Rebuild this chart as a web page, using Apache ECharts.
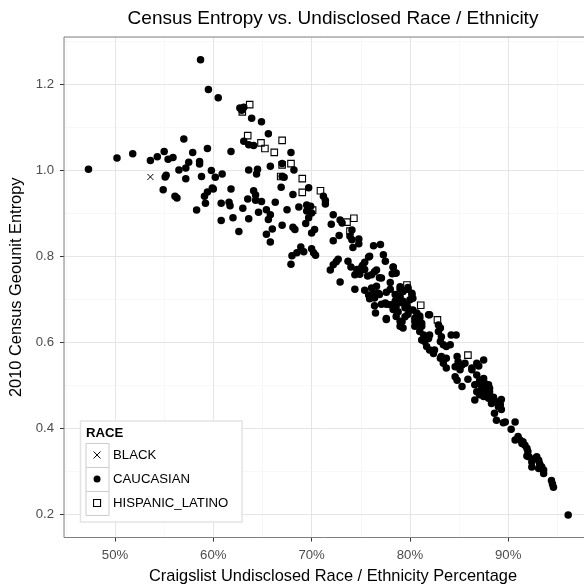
<!DOCTYPE html>
<html><head><meta charset="utf-8">
<script src="https://cdn.jsdelivr.net/npm/echarts@6/dist/echarts.min.js"></script>
<style>html,body{margin:0;padding:0;background:#fff}#c{width:584px;height:584px}</style>
</head><body><div id="c"></div>
<script>
const chartTitle = 'Census Entropy vs. Undisclosed Race / Ethnicity';
const xTitle = 'Craigslist Undisclosed Race / Ethnicity Percentage';
const yTitle = '2010 Census Geounit Entropy';
const legendTitle = 'RACE';
const raceNames = ['BLACK', 'CAUCASIAN', 'HISPANIC_LATINO'];
const xTicks = [50, 60, 70, 80, 90];
const yTicks = [0.2, 0.4, 0.6, 0.8, 1.0, 1.2];
const xRange = [44.81, 99.54];
const yRange = [0.1465, 1.309];

const blackPoints = [[53.6, 0.984]];

const caucasianPoints = [
[47.3,1.002],[50.2,1.028],[51.8,1.038],[53.6,1.022],[54.3,1.031],[55.0,1.043],[55.4,1.025],[55.9,1.029],[57.0,1.072],[57.9,1.041],[56.5,1.000],[57.2,1.005],[57.5,1.018],[57.2,0.980],[55.2,0.988],[55.1,0.984],[54.9,0.954],[56.1,0.939],[56.3,0.935],[58.6,1.020],[58.6,1.014],[58.8,0.985],[58.3,0.907],[58.7,1.256],[59.5,1.187],[60.5,1.168],[59.4,1.050],[59.8,0.999],[60.2,0.983],[60.9,0.991],[59.9,0.958],[59.4,0.949],[59.1,0.939],[59.2,0.923],[60.0,0.956],[60.8,0.923],[60.8,0.883],[61.6,0.925],[61.7,0.917],[62.0,0.889],[61.8,0.956],[61.8,1.043],[62.6,0.857],
[63.0,0.911],[63.5,0.933],[63.6,0.887],[63.6,1.000],[64.1,0.952],[64.3,0.942],[64.3,0.930],[64.6,0.902],[64.9,0.927],[64.4,0.991],[64.5,1.002],[65.4,0.908],[65.8,0.896],[65.6,0.885],[66.0,0.863],[65.4,0.851],[65.8,0.833],[66.3,0.925],[65.8,1.009],[63.1,1.067],[63.6,1.059],[64.1,1.057],[65.6,1.084],[64.9,1.112],[63.9,1.120],[62.7,1.144],[63.1,1.146],[62.9,1.139],[67.0,1.015],[67.0,0.985],[67.2,0.983],[66.9,0.960],[68.2,1.000],[67.9,1.041],[68.1,0.943],[67.5,0.908],[67.0,0.872],[68.1,0.867],[68.3,0.862],[68.7,0.914],[69.7,0.959],[69.4,0.876],[70.0,0.900],[69.5,0.919],[69.9,0.916],[69.5,0.905],[69.7,0.889],[70.0,0.854],[70.3,0.862],[68.9,0.821],[68.5,0.808],[69.2,0.810],[68.0,0.801],[67.9,0.781],[70.0,0.817],[70.2,0.808],[70.4,0.802],
[71.2,0.939],[71.4,0.929],[71.4,0.921],[72.2,0.896],[72.0,0.874],[72.9,0.884],[73.1,0.877],[74.1,0.861],[73.9,0.846],[74.1,0.838],[74.8,0.840],[74.8,0.829],[74.2,0.820],[72.2,0.836],[72.8,0.848],[76.3,0.824],[77.0,0.827],[77.3,0.803],[77.5,0.788],[78.3,0.775],[78.6,0.761],[78.2,0.759],[75.8,0.798],[75.4,0.786],[75.2,0.779],[74.8,0.768],[72.7,0.793],[72.5,0.787],[72.2,0.780],[71.9,0.768],[73.7,0.788],[74.0,0.775],[74.6,0.769],[75.1,0.775],[75.9,0.800],[74.4,0.757],[74.9,0.758],[75.4,0.769],[75.7,0.754],[76.1,0.757],[76.6,0.768],[76.9,0.750],[76.4,0.764],[72.9,0.740],[74.4,0.723],[75.4,0.721],[76.1,0.726],[76.6,0.730],[76.8,0.714],[75.9,0.701],[76.4,0.703],[76.9,0.711],[77.6,0.716],[78.0,0.723],[78.5,0.711],[79.0,0.723],[79.3,0.719],[78.6,0.699],[76.4,0.685],[77.1,0.688],[77.6,0.688],[76.5,0.668],[77.6,0.655],[78.3,0.676],[78.6,0.684],[79.2,0.692],[79.5,0.680],[80.0,0.699],[80.2,0.711],[79.8,0.723],[78.6,0.660],[79.0,0.649],[79.5,0.659],[79.8,0.665],[80.3,0.675],[80.7,0.668],[81.0,0.661],[80.7,0.649],[80.5,0.637],[81.9,0.664],[79.0,0.637],[79.3,0.633],[81.2,0.637],[78.0,0.739],[77.1,0.749],[78.3,0.774],[78.5,0.760],[79.0,0.729],[79.3,0.718],[79.8,0.727],[80.2,0.714],[80.3,0.702],[79.0,0.706],[78.5,0.695],[79.3,0.695],[79.7,0.687],[77.5,0.691],[78.0,0.687],[78.5,0.675],[78.8,0.671],[79.8,0.679],[77.6,0.653],[79.2,0.648],[75.8,0.710],[76.3,0.714],
[80.5,0.656],[80.5,0.648],[81.0,0.656],[81.2,0.644],[82.0,0.664],[81.0,0.625],[81.4,0.617],[81.2,0.605],[81.5,0.602],[81.9,0.609],[82.0,0.617],[82.9,0.640],[83.1,0.633],[82.9,0.625],[83.2,0.613],[83.1,0.602],[83.4,0.594],[83.7,0.590],[84.1,0.594],[84.2,0.617],[84.7,0.617],[81.7,0.590],[82.0,0.582],[82.5,0.582],[82.4,0.574],[83.2,0.567],[83.7,0.563],[84.8,0.567],[84.9,0.555],[84.6,0.543],[85.3,0.547],[85.1,0.536],[85.6,0.551],[86.3,0.540],[86.8,0.551],[87.5,0.559],[87.0,0.545],[83.1,0.563],[83.4,0.551],[83.7,0.540],[84.6,0.520],[84.8,0.512],[85.3,0.497],[85.9,0.514],[86.3,0.536],[86.8,0.524],[87.1,0.512],[87.5,0.516],[87.6,0.505],[88.0,0.501],[88.1,0.493],[87.8,0.489],[87.3,0.493],[86.8,0.485],[87.1,0.478],[87.5,0.474],[88.0,0.470],[88.5,0.472],[88.8,0.462],[88.3,0.458],[89.2,0.455],[89.3,0.467],[86.6,0.466],[86.6,0.501],[87.0,0.505],[88.1,0.485],[87.6,0.481],
[89.0,0.450],[89.3,0.444],[88.6,0.435],[88.8,0.419],[89.5,0.413],[89.7,0.415],[90.3,0.398],[90.7,0.415],[90.7,0.373],[91.0,0.381],[91.2,0.373],[91.4,0.365],[91.5,0.369],[91.7,0.361],[91.9,0.354],[92.0,0.346],[92.1,0.334],[91.9,0.336],[92.4,0.322],[92.4,0.310],[92.7,0.330],[92.9,0.334],[93.1,0.326],[93.2,0.318],[93.4,0.311],[93.6,0.303],[93.6,0.295],[93.1,0.307],[94.4,0.279],[94.5,0.271],[94.6,0.263],[96.1,0.199]
];

const hispanicPoints = [
[63.7,1.152],[62.95,1.135],[63.5,1.080],[64.85,1.063],[65.25,1.050],[66.2,1.041],[67.0,1.069],[67.0,1.012],[67.9,1.015],[66.85,0.985],[69.05,0.980],[69.05,0.948],[70.1,0.907],[70.9,0.952],[73.6,0.879],[74.3,0.888],[73.9,0.858],[79.7,0.733],[81.1,0.686],[82.8,0.652],[85.9,0.570]
];

const FONT = '"Liberation Sans", Arial, Helvetica, sans-serif';
const crossPath = 'path://M0,0L10,10M10,0L0,10';
const squarePath = 'path://M0,0L10,0L10,10L0,10Z';

const chart = echarts.init(document.getElementById('c'), null, {renderer: 'canvas'});

function minorAxis(range, split, pos) {
  return {
    type: 'value', min: range[0], max: range[1], splitNumber: split, position: pos, z: 0,
    axisLine: {show: false}, axisTick: {show: false}, axisLabel: {show: false},
    splitLine: {show: true, lineStyle: {color: '#f7f7f7', width: 1}}
  };
}

const option = {
  animation: false,
  backgroundColor: '#ffffff',
  grid: {left: 64, top: 37, right: -18, bottom: 46.5, outerBoundsMode: 'none', containLabel: false, show: true, borderColor: '#7f7f7f', borderWidth: 1, backgroundColor: 'transparent', z: 3},
  xAxis: [
    minorAxis(xRange, 10, 'bottom'),
    {
      type: 'value', min: xRange[0], max: xRange[1], splitNumber: 5, position: 'bottom', z: 1,
      axisLine: {show: false},
      axisTick: {show: true, length: 4, customValues: xTicks, lineStyle: {color: '#333333'}},
      axisLabel: {customValues: xTicks, formatter: v => Math.round(v) + '%', color: '#4d4d4d', fontSize: 13.2, fontFamily: FONT, margin: 11},
      splitLine: {show: true, lineStyle: {color: '#e5e5e5', width: 1}},
      name: xTitle, nameLocation: 'middle', nameGap: 31,
      nameTextStyle: {color: '#000', fontSize: 16.4, fontFamily: FONT}
    }
  ],
  yAxis: [
    minorAxis(yRange, 12, 'left'),
    {
      type: 'value', min: yRange[0], max: yRange[1], splitNumber: 6, position: 'left', z: 1,
      axisLine: {show: false},
      axisTick: {show: true, length: 4, customValues: yTicks, lineStyle: {color: '#333333'}},
      axisLabel: {customValues: yTicks, formatter: v => v.toFixed(1), color: '#4d4d4d', fontSize: 13.2, fontFamily: FONT, margin: 10},
      splitLine: {show: true, lineStyle: {color: '#e5e5e5', width: 1}},
      name: yTitle, nameLocation: 'middle', nameGap: 38, nameRotate: 90,
      nameTextStyle: {color: '#000', fontSize: 16.4, fontFamily: FONT}
    }
  ],
  legend: {
    orient: 'vertical', left: 93, top: 443, padding: 0, itemGap: 0, z: 20,
    itemWidth: 22, itemHeight: 7, selectedMode: false, symbolKeepAspect: true,
    textStyle: {color: '#000', fontSize: 13.2, fontFamily: FONT, lineHeight: 24},
    data: [
      {name: raceNames[0], icon: crossPath, itemStyle: {color: 'transparent', borderColor: '#000', borderWidth: 1}},
      {name: raceNames[1], icon: 'circle', itemStyle: {color: '#000', borderColor: 'transparent', borderWidth: 0}},
      {name: raceNames[2], icon: squarePath, itemStyle: {color: 'transparent', borderColor: '#000', borderWidth: 1.1}}
    ]
  },
  graphic: [
    {type: 'text', x: 333, y: 19, z: 10, style: {text: chartTitle, font: '19px ' + FONT, fill: '#000', textAlign: 'center', textVerticalAlign: 'middle'}},
    {type: 'rect', shape: {x: 80.5, y: 421, width: 161.5, height: 101}, z: 10, style: {fill: '#fff', stroke: '#e3e3e3', lineWidth: 1.5}},
    {type: 'text', x: 86, y: 433.5, z: 11, style: {text: legendTitle, font: 'bold 13.2px ' + FONT, fill: '#000', textAlign: 'left', textVerticalAlign: 'middle'}},
    {type: 'rect', shape: {x: 86, y: 443.5, width: 23, height: 24}, z: 11, style: {fill: '#fff', stroke: '#cccccc', lineWidth: 1}},
    {type: 'rect', shape: {x: 86, y: 467.5, width: 23, height: 24}, z: 11, style: {fill: '#fff', stroke: '#cccccc', lineWidth: 1}},
    {type: 'rect', shape: {x: 86, y: 491.5, width: 23, height: 24}, z: 11, style: {fill: '#fff', stroke: '#cccccc', lineWidth: 1}}
  ],
  series: [
    {
      name: raceNames[1], type: 'scatter', xAxisIndex: 1, yAxisIndex: 1, data: caucasianPoints,
      symbol: 'circle', symbolSize: 7.5, itemStyle: {color: '#000', opacity: 1, borderWidth: 0}, emphasis: {disabled: true}
    },
    {
      name: raceNames[0], type: 'scatter', xAxisIndex: 1, yAxisIndex: 1, data: blackPoints,
      symbol: crossPath, symbolSize: 6, itemStyle: {color: 'transparent', borderColor: '#000', borderWidth: 1, opacity: 1}, emphasis: {disabled: true}
    },
    {
      name: raceNames[2], type: 'scatter', xAxisIndex: 1, yAxisIndex: 1, data: hispanicPoints,
      symbol: 'rect', symbolSize: 6.5, itemStyle: {color: 'transparent', borderColor: '#000', borderWidth: 1.1, opacity: 1}, emphasis: {disabled: true}
    }
  ]
};
chart.setOption(option);
</script></body></html>
